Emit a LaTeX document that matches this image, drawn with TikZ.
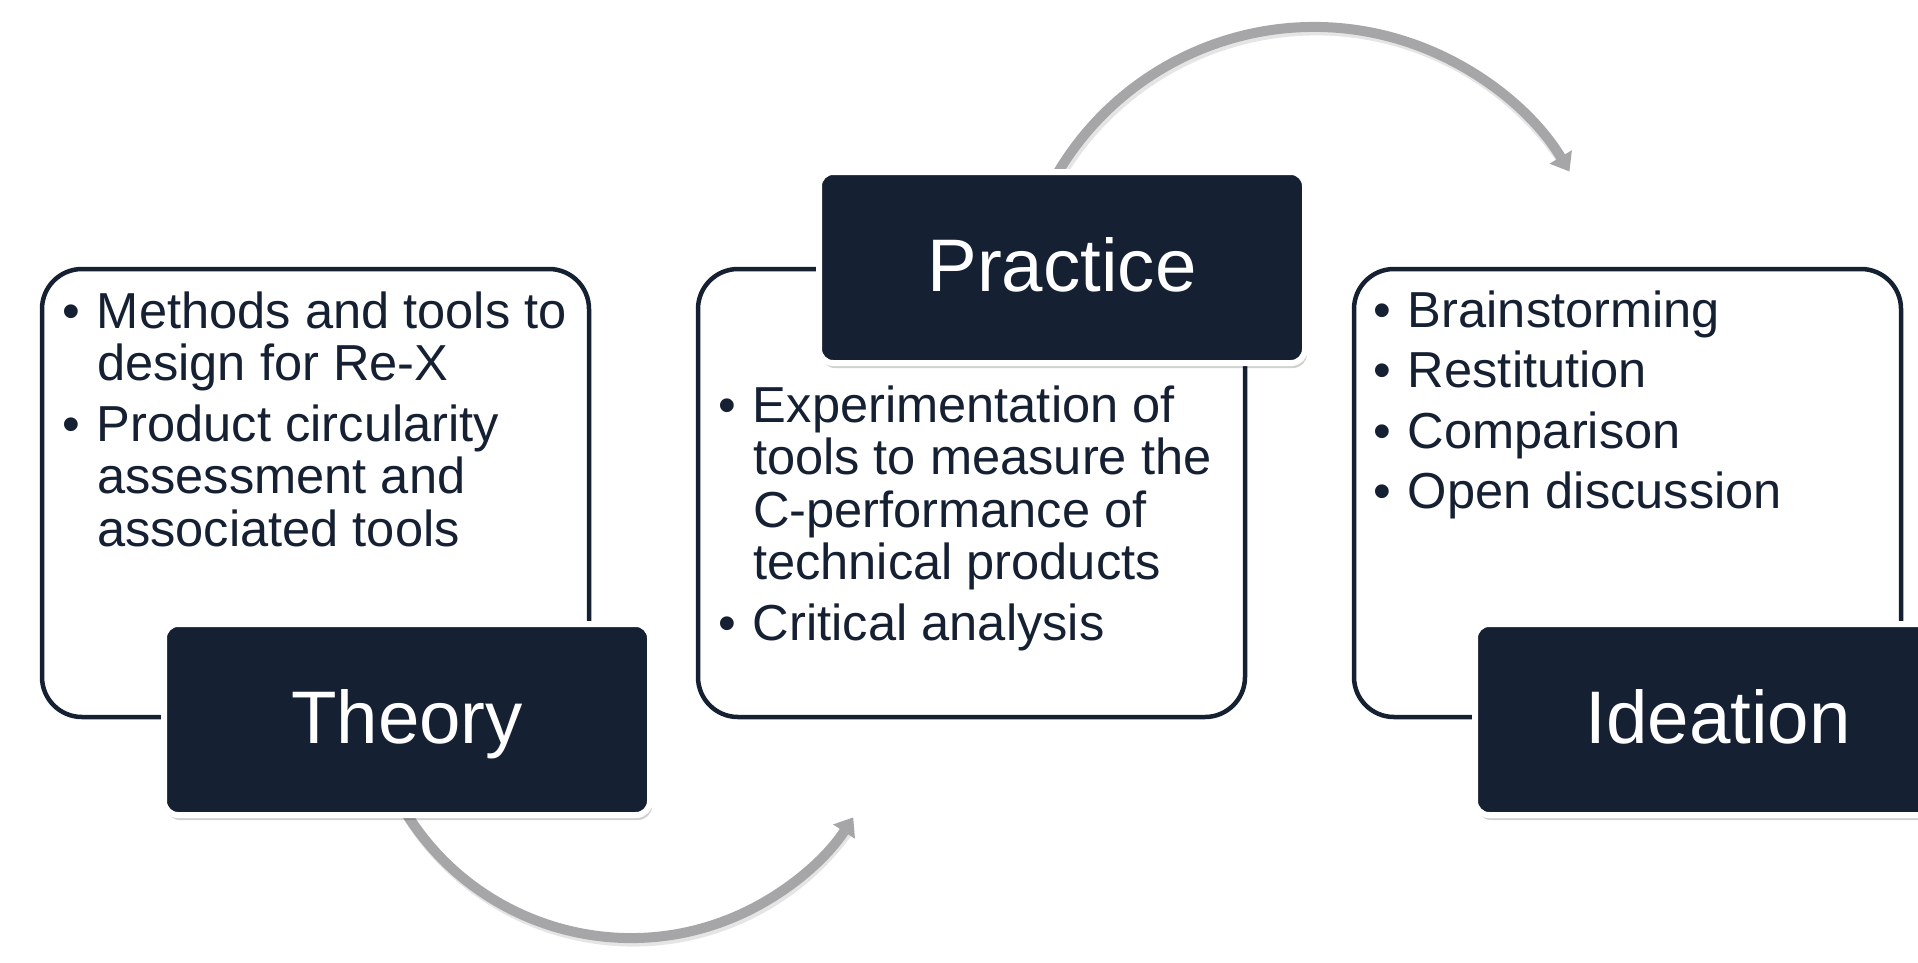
\documentclass[tikz,border=0pt]{standalone}
\usepackage{fontspec}
\setmainfont{Liberation Sans}
\usetikzlibrary{arrows.meta,shadows}
\definecolor{navy}{RGB}{22,32,51}
\definecolor{arcgray}{RGB}{166,166,168}
\newcommand{\bitem}[1]{\noindent\hangindent=35pt\hangafter=1\makebox[35pt][l]{•}#1\par}
\newcommand{\bgap}{\vskip 8pt}
\begin{document}
\begin{tikzpicture}[x=1pt,y=-1pt,
  textbox/.style={draw=navy, line width=4.5pt, rounded corners=40pt, fill=white,
    minimum width=547pt, minimum height=448pt, inner sep=0pt, outer sep=0pt, anchor=north west},
  labelbox/.style={draw=white, line width=6pt, rounded corners=14pt, fill=navy,
    minimum width=486pt, minimum height=191pt, inner sep=0pt, outer sep=0pt,
    text height=70pt, text depth=23pt, text=white, font=\fontsize{74.5}{80}\selectfont,
    drop shadow={shadow xshift=2pt, shadow yshift=-5pt, opacity=0.18, fill=black}},
  flowarc/.style={draw=arcgray, line width=10pt, -{Triangle[width=25pt,length=17pt]}},
  arcshadow/.style={draw=black, draw opacity=0.10, line width=11pt},
  bullets/.style={text=navy, inner sep=0pt, outer sep=0pt, anchor=base west}
]
\useasboundingbox (0,0) rectangle (1918,962);
\clip (0,0) rectangle (1918,962);

% arc centres
\coordinate (ctop) at (1314,325);
\coordinate (cbot) at (631,673);

% arcs (shadow + arc)
\draw[arcshadow] ([shift={(2,3)}]ctop) ++(-160:298) arc[start angle=-160, end angle=-33, radius=298];
\draw[flowarc] (ctop) ++(-160:298) arc[start angle=-160, end angle=-31, radius=298];
\draw[arcshadow] ([shift={(2,3)}]cbot) ++(155:265) arc[start angle=155, end angle=35, radius=265];
\draw[flowarc] (cbot) ++(155:265) arc[start angle=155, end angle=33, radius=265];

% text boxes
\node[textbox] (theorybox) at (42,269) {};
\node[textbox] (practicebox) at (698,269) {};
\node[textbox] (ideationbox) at (1354,269) {};

% bullet texts
\node[bullets] (theorytext) at (62,328) {\parbox[t]{600pt}{\raggedright\fontsize{50.6}{52.5}\selectfont
  \bitem{Methods and tools to\newline design for Re-X}\bgap
  \bitem{Product circularity\newline assessment and\newline associated tools}}};
\node[bullets] (practicetext) at (718,422) {\parbox[t]{600pt}{\raggedright\fontsize{50.6}{52.5}\selectfont
  \bitem{Experimentation of\newline tools to measure the\newline C-performance of\newline technical products}\bgap
  \bitem{Critical analysis}}};
\node[bullets] (ideationtext) at (1373,327) {\parbox[t]{600pt}{\raggedright\fontsize{50.6}{52.5}\selectfont
  \bitem{Brainstorming}\bgap
  \bitem{Restitution}\bgap
  \bitem{Comparison}\bgap
  \bitem{Open discussion}}};

% labels
\node[labelbox] (theory) at (407,719.5) {Theory};
\node[labelbox] (practice) at (1062,267.5) {Practice};
\node[labelbox] (ideation) at (1718,719.5) {Ideation};
\end{tikzpicture}
\end{document}
